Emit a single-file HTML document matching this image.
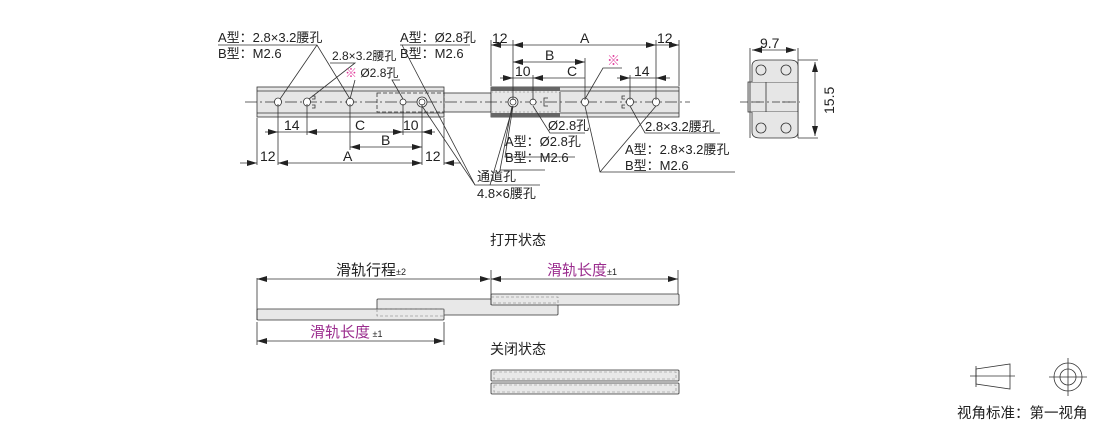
<!DOCTYPE html>
<html><head><meta charset="utf-8"><style>
html,body{margin:0;padding:0;background:#fff}
svg{display:block}
text{font-family:"Liberation Sans","Noto Sans CJK SC",sans-serif;font-size:13px;fill:#222}
</style></head><body>
<svg width="1110" height="425" viewBox="0 0 1110 425" xmlns="http://www.w3.org/2000/svg">
<defs>
<marker id="ar" viewBox="0 0 10 6" refX="10" refY="3" markerWidth="10" markerHeight="6" orient="auto-start-reverse" markerUnits="userSpaceOnUse"><path d="M0,0 L10,3 L0,6 z" fill="#222"/></marker>
</defs>
<g stroke="#333" stroke-width="0.8" fill="none">
<!-- left rail -->
<rect x="257" y="87" width="187" height="30" fill="#e6e6e6"/>
<line x1="257" y1="91" x2="444" y2="91"/><line x1="257" y1="113" x2="444" y2="113"/>
<rect x="444" y="93" width="47" height="19" fill="#e8e8e8"/>
<rect x="377" y="93" width="67" height="19" stroke-dasharray="4,2"/>
<!-- right rail -->
<rect x="491" y="87" width="188" height="30" fill="#e6e6e6"/>
<rect x="491" y="87" width="69" height="4" fill="#666" stroke="none"/>
<rect x="491" y="113" width="69" height="4" fill="#666" stroke="none"/>
<line x1="491" y1="92" x2="560" y2="92" stroke="#999" stroke-dasharray="2,2"/>
<line x1="491" y1="112" x2="560" y2="112" stroke="#999" stroke-dasharray="2,2"/>
<line x1="560" y1="92" x2="560" y2="112"/>
<line x1="560" y1="91" x2="679" y2="91"/><line x1="560" y1="113" x2="679" y2="113"/>
<!-- center line -->
<line x1="245" y1="102" x2="690" y2="102" stroke-dasharray="12,3,2,3"/>
<!-- holes -->
<g fill="#fff">
<ellipse cx="278" cy="102" rx="3.5" ry="4"/><ellipse cx="307" cy="102" rx="3.5" ry="4"/>
<ellipse cx="350" cy="102" rx="3.5" ry="4"/><ellipse cx="403" cy="102" rx="3" ry="3"/>
<ellipse cx="422" cy="102" rx="5" ry="5"/><ellipse cx="422" cy="102" rx="3" ry="3"/>
<ellipse cx="513" cy="102" rx="5" ry="5"/><ellipse cx="513" cy="102" rx="3" ry="3"/>
<ellipse cx="533" cy="102" rx="3" ry="3"/><ellipse cx="585" cy="102" rx="3.5" ry="4"/>
<ellipse cx="630" cy="102" rx="3.5" ry="4"/><ellipse cx="656" cy="102" rx="3.5" ry="4"/>
</g>
<path d="M312,96h3v3h-3 M312,105h3v3h-3 M625,96h-3v3h3 M625,105h-3v3h3 M548,98h-4v8h4"/>
<!-- left dims extension -->
<path d="M257,118V165 M278,104V165 M307,104V135 M350,104V150 M403,104V135 M422,104V165 M444,118V165"/>
<line x1="350" y1="147" x2="422" y2="147" marker-start="url(#ar)" marker-end="url(#ar)"/>
<line x1="278" y1="163" x2="422" y2="163" marker-start="url(#ar)" marker-end="url(#ar)"/>
<line x1="278" y1="132" x2="307" y2="132"/>
<line x1="403" y1="132" x2="422" y2="132"/>
<line x1="265" y1="132" x2="278" y2="132" marker-end="url(#ar)"/>
<line x1="320" y1="132" x2="307" y2="132" marker-end="url(#ar)"/>
<line x1="320" y1="132" x2="390" y2="132"/>
<line x1="390" y1="132" x2="403" y2="132" marker-end="url(#ar)"/>
<line x1="435" y1="132" x2="422" y2="132" marker-end="url(#ar)"/>
<line x1="240" y1="163" x2="257" y2="163" marker-end="url(#ar)"/>
<line x1="461" y1="163" x2="444" y2="163" marker-end="url(#ar)"/>
<!-- right dims -->
<path d="M491,86V40 M513,100V40 M533,100V75 M585,100V58 M630,100V75 M656,100V40 M679,86V40"/>
<line x1="513" y1="45" x2="656" y2="45" marker-start="url(#ar)" marker-end="url(#ar)"/>
<line x1="491" y1="45" x2="513" y2="45" marker-start="url(#ar)"/>
<line x1="656" y1="45" x2="679" y2="45" marker-end="url(#ar)"/>
<line x1="513" y1="62" x2="585" y2="62" marker-start="url(#ar)" marker-end="url(#ar)"/>
<line x1="500" y1="78" x2="513" y2="78" marker-end="url(#ar)"/>
<line x1="546" y1="78" x2="533" y2="78" marker-end="url(#ar)"/>
<line x1="546" y1="78" x2="585" y2="78"/>
<line x1="617" y1="78" x2="630" y2="78" marker-end="url(#ar)"/>
<line x1="670" y1="78" x2="656" y2="78" marker-end="url(#ar)"/>
<line x1="513" y1="78" x2="533" y2="78"/><line x1="630" y1="78" x2="656" y2="78"/>
<!-- leaders -->
<path d="M218,45H317L350,99 M317,45L280,99 M330,63H355L309,99 M400,80H392L403,99 M355,80L350,99 M400,45H470 M402,45L475,185"/>
<path d="M422,106L475,185H540 M513,106L490,185 M512,106L500,170H545"/>
<path d="M533,106L550,133H585 M513,106L505,157H575"/>
<path d="M585,106L600,172H735 M600,172L656,106 M630,106L645,133H720"/>
<path d="M585,99L603,68H622"/>
<!-- side view -->
<rect x="748" y="82" width="50" height="30" fill="#e6e6e6"/>
<path d="M766,82V112 M752,102H760 M782,102H790" />
<path d="M750,60V138 M798,60V138 M798,60H818 M798,138H818"/>
<line x1="752" y1="50" x2="796" y2="50" marker-start="url(#ar)" marker-end="url(#ar)"/>
<path d="M750,48V60 M798,48V60"/>
<line x1="815" y1="62" x2="815" y2="136" marker-start="url(#ar)" marker-end="url(#ar)"/>
<path d="M752,82V66q0,-6 8,-6h30q8,0 8,6V82 M752,112V132q0,6 8,6h30q8,0 8,-6V112" fill="#e6e6e6"/>
<circle cx="761" cy="70" r="5"/><circle cx="786" cy="70" r="5"/><circle cx="761" cy="128" r="5"/><circle cx="786" cy="128" r="5"/>
<line x1="740" y1="102" x2="800" y2="102" stroke-dasharray="8,3,2,3"/>
<!-- open state -->
<rect x="377" y="299" width="181" height="16" rx="1" fill="#e8e8e8"/>
<rect x="257" y="309" width="187" height="11" rx="1" fill="#e8e8e8"/>
<rect x="377" y="309" width="67" height="7" stroke="#777" stroke-width="0.6" stroke-dasharray="3,2"/>
<rect x="491" y="294" width="188" height="11" rx="1" fill="#e8e8e8"/>
<rect x="491" y="297" width="67" height="6" stroke="#777" stroke-width="0.6" stroke-dasharray="3,2"/>
<path d="M257,278V320 M257,322V345 M444,322V345 M491,270V305 M678,270V294"/>
<line x1="257" y1="279" x2="490" y2="279" marker-start="url(#ar)" marker-end="url(#ar)"/>
<line x1="491" y1="279" x2="678" y2="279" marker-start="url(#ar)" marker-end="url(#ar)"/>
<line x1="257" y1="341" x2="444" y2="341" marker-start="url(#ar)" marker-end="url(#ar)"/>
<!-- closed -->
<rect x="491" y="370" width="188" height="11" rx="1" fill="#e8e8e8"/>
<rect x="494" y="372" width="182" height="7" stroke="#888" stroke-width="0.6" stroke-dasharray="3,2"/>
<rect x="491" y="383" width="188" height="11" rx="1" fill="#e8e8e8"/>
<rect x="494" y="385" width="182" height="7" stroke="#888" stroke-width="0.6" stroke-dasharray="3,2"/>
<!-- legend -->
<path d="M976,369L1010,364V389L976,384z M970,376H1015" />
<path d="M976,366V387"/>
<circle cx="1068" cy="377" r="14"/><circle cx="1068" cy="377" r="8"/>
<path d="M1049,377H1087 M1068,358V396"/>
</g>
<g>
<text x="218" y="42">A型：2.8×3.2腰孔</text>
<text x="218" y="58">B型：M2.6</text>
<text x="332" y="60" style="font-size:12px">2.8×3.2腰孔</text>
<text x="345" y="77" style="font-size:12px"><tspan style="fill:#e0399a">※</tspan> Ø2.8孔</text>
<text x="400" y="42">A型：Ø2.8孔</text>
<text x="400" y="58">B型：M2.6</text>
<text x="284" y="130" style="font-size:14px">14</text>
<text x="355" y="130" style="font-size:14px">C</text>
<text x="403" y="130" style="font-size:14px">10</text>
<text x="381" y="145" style="font-size:14px">B</text>
<text x="343" y="161" style="font-size:14px">A</text>
<text x="260" y="161" style="font-size:14px">12</text>
<text x="425" y="161" style="font-size:14px">12</text>
<text x="492" y="43" style="font-size:14px">12</text>
<text x="580" y="43" style="font-size:14px">A</text>
<text x="657" y="43" style="font-size:14px">12</text>
<text x="545" y="60" style="font-size:14px">B</text>
<text x="515" y="76" style="font-size:14px">10</text>
<text x="567" y="76" style="font-size:14px">C</text>
<text x="634" y="76" style="font-size:14px">14</text>
<text x="607" y="65" style="fill:#e0399a">※</text>
<text x="548" y="130">Ø2.8孔</text>
<text x="505" y="146">A型：Ø2.8孔</text>
<text x="505" y="162">B型：M2.6</text>
<text x="477" y="181">通道孔</text>
<text x="477" y="198">4.8×6腰孔</text>
<text x="645" y="131">2.8×3.2腰孔</text>
<text x="625" y="154">A型：2.8×3.2腰孔</text>
<text x="625" y="170">B型：M2.6</text>
<text x="760" y="48" style="font-size:14px">9.7</text>
<text transform="translate(834,114) rotate(-90)" style="font-size:14px">15.5</text>
<text x="490" y="245" style="font-size:14px">打开状态</text>
<text x="336" y="275" style="font-size:15px">滑轨行程<tspan style="font-size:9px">±2</tspan></text>
<text x="547" y="275" style="font-size:15px;fill:#9b2d8e">滑轨长度<tspan style="font-size:9px;fill:#222">±1</tspan></text>
<text x="310" y="337" style="font-size:15px;fill:#9b2d8e">滑轨长度<tspan style="font-size:9px;fill:#222"> ±1</tspan></text>
<text x="490" y="354" style="font-size:14px">关闭状态</text>
<text x="957" y="418" style="font-size:14.5px">视角标准：第一视角</text>
</g>
</svg>
</body></html>
